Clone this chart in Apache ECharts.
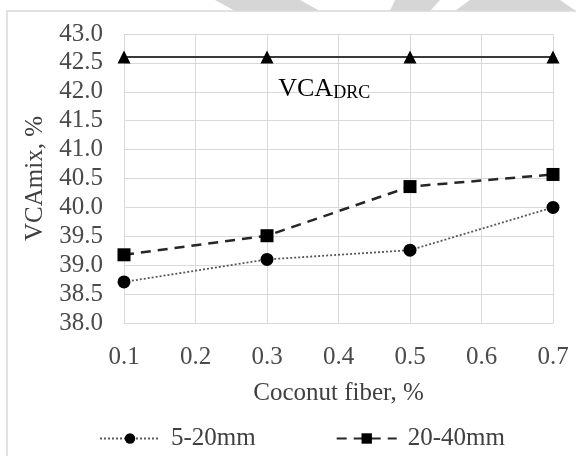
<!DOCTYPE html>
<html>
<head>
<meta charset="utf-8">
<script src="https://cdn.jsdelivr.net/npm/echarts@6/dist/echarts.min.js"></script>
<style>
  html, body { margin: 0; padding: 0; background: #ffffff; }
  #chart { width: 576px; height: 456px; }
</style>
</head>
<body>
<div id="chart"></div>
<script>
const fiberContent = [0.1, 0.3, 0.5, 0.7];
const vcaFine = [38.71, 39.1, 39.26, 40.0];
const vcaCoarse = [39.18, 39.51, 40.36, 40.57];
const vcaDrc = [42.6, 42.6, 42.6, 42.6];
const seriesNames = ["5-20mm", "20-40mm", "VCA DRC"];

const serif = "'Liberation Serif', 'Times New Roman', serif";

const pairUp = (values) => fiberContent.map((x, i) => [x, values[i]]);

const chart = echarts.init(document.getElementById("chart"));

chart.setOption({
  animation: false,
  backgroundColor: "#ffffff",
  graphic: [
    {
      type: "rect",
      z: -10,
      shape: { x: 7, y: 11, width: 575, height: 452 },
      style: { fill: "#ffffff", stroke: "#d9d9d9", lineWidth: 1.5 },
    },
    {
      type: "polygon",
      z: -20,
      shape: { points: [[215, 0], [300, 0], [320, 11], [235, 11]] },
      style: { fill: "#d6d6d6" },
    },
    {
      type: "polygon",
      z: -20,
      shape: { points: [[395, 0], [440, 0], [430, 11], [390, 11]] },
      style: { fill: "#d6d6d6" },
    },
    {
      type: "polygon",
      z: -20,
      shape: { points: [[470, 0], [560, 0], [576, 11], [455, 11]] },
      style: { fill: "#d6d6d6" },
    },
  ],
  grid: {
    left: 124,
    right: 23,
    top: 34,
    bottom: 133,
  },
  legend: {
    data: [seriesNames[0], seriesNames[1]],
    left: 94,
    top: 421,
    itemWidth: 60,
    itemHeight: 13,
    itemGap: 80,
    textStyle: {
      fontFamily: serif,
      fontSize: 25,
      color: "#404040",
      padding: [0, 0, 0, 6],
    },
  },
  xAxis: {
    type: "value",
    min: 0.1,
    max: 0.7,
    interval: 0.1,
    name: "Coconut fiber, %",
    nameLocation: "middle",
    nameGap: 58,
    nameTextStyle: { fontFamily: serif, fontSize: 25, color: "#404040" },
    axisLine: { lineStyle: { color: "#d9d9d9", width: 1 } },
    axisTick: { show: false },
    axisLabel: {
      fontFamily: serif,
      fontSize: 25,
      color: "#4a4a4a",
      margin: 22,
      formatter: (v) => v.toFixed(1),
    },
    splitLine: { show: true, lineStyle: { color: "#d9d9d9", width: 1 } },
  },
  yAxis: {
    type: "value",
    min: 38,
    max: 43,
    interval: 0.5,
    name: "VCAmix, %",
    nameLocation: "middle",
    nameGap: 76,
    nameTextStyle: { fontFamily: serif, fontSize: 25, color: "#404040" },
    axisLine: { show: false },
    axisTick: { show: false },
    axisLabel: {
      fontFamily: serif,
      fontSize: 25,
      color: "#4a4a4a",
      margin: 21,
      formatter: (v) => v.toFixed(1),
    },
    splitLine: { lineStyle: { color: "#d9d9d9", width: 1 } },
  },
  series: [
    {
      name: seriesNames[0],
      type: "line",
      smooth: false,
      data: pairUp(vcaFine),
      symbol: "circle",
      symbolSize: 13,
      itemStyle: { color: "#000000" },
      lineStyle: { color: "#595959", width: 1.8, type: [2, 2] },
      z: 3,
    },
    {
      name: seriesNames[1],
      type: "line",
      smooth: false,
      data: pairUp(vcaCoarse),
      symbol: "rect",
      symbolSize: 13,
      itemStyle: { color: "#000000" },
      lineStyle: { color: "#262626", width: 2.5, type: [10, 7] },
      z: 3,
    },
    {
      name: seriesNames[2],
      type: "line",
      smooth: false,
      data: pairUp(vcaDrc),
      symbol: "triangle",
      symbolSize: 13,
      itemStyle: { color: "#000000" },
      lineStyle: { color: "#3a3a3a", width: 2 },
      z: 2,
      markPoint: {
        symbol: "rect",
        symbolSize: 1,
        itemStyle: { color: "rgba(0,0,0,0)" },
        data: [
          {
            coord: [0.38, 42.05],
            label: {
              show: true,
              position: "inside",
              formatter: "{main|VCA}{sub|DRC}",
              rich: {
                main: { fontFamily: serif, fontSize: 26, color: "#000000" },
                sub: {
                  fontFamily: serif,
                  fontSize: 18,
                  color: "#000000",
                  padding: [9, 0, 0, 0],
                },
              },
            },
          },
        ],
      },
    },
  ],
});
</script>
</body>
</html>
